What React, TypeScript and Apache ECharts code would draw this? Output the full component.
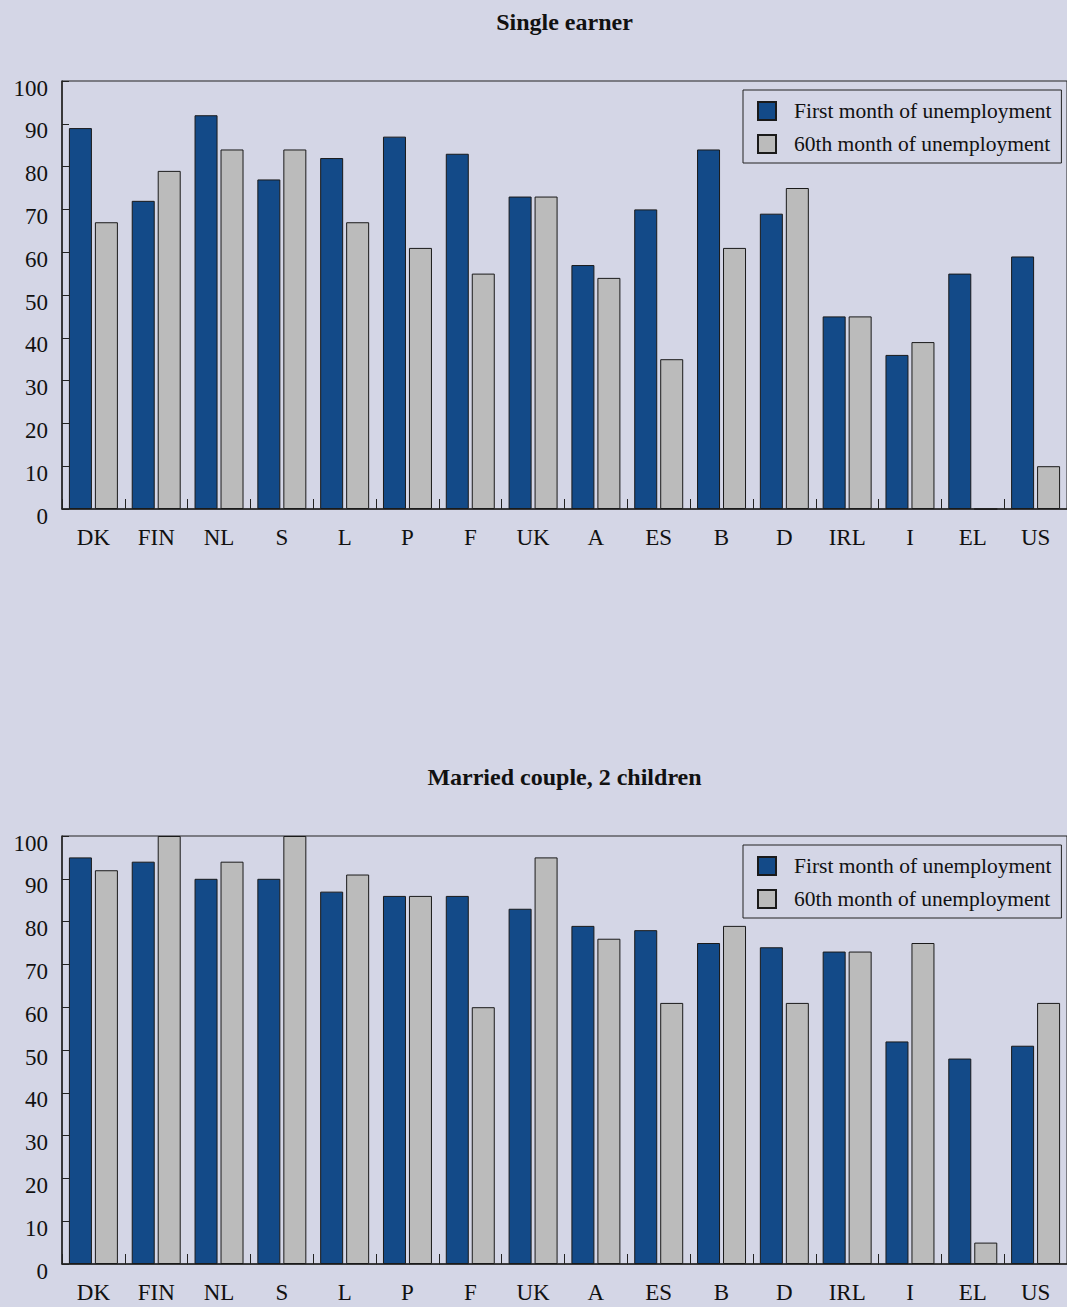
import React, { useEffect, useRef } from "react";
import * as echarts from "echarts";

const countries = ["DK", "FIN", "NL", "S", "L", "P", "F", "UK", "A", "ES", "B", "D", "IRL", "I", "EL", "US"];

const singleFirst = [89, 72, 92, 77, 82, 87, 83, 73, 57, 70, 84, 69, 45, 36, 55, 59];
const singleSixtieth = [67, 79, 84, 84, 67, 61, 55, 73, 54, 35, 61, 75, 45, 39, 0, 10];

const coupleFirst = [95, 94, 90, 90, 87, 86, 86, 83, 79, 78, 75, 74, 73, 52, 48, 51];
const coupleSixtieth = [92, 100, 94, 100, 91, 86, 60, 95, 76, 61, 79, 61, 73, 75, 5, 61];

const yTicks = [0, 10, 20, 30, 40, 50, 60, 70, 80, 90, 100];

const panelTitles = ["Single earner", "Married couple, 2 children"];
const seriesNames = ["First month of unemployment", "60th month of unemployment"];

const BG = "#D4D6E6";
const BLUE = "#134A88";
const GREY = "#BBBBBB";
const INK = "#111111";
const FONT = "'Liberation Serif', 'Times New Roman', serif";

export default function App() {
  const ref = useRef<HTMLDivElement>(null);

  useEffect(() => {
    if (!ref.current) return;
    const chart = echarts.init(ref.current, undefined, { renderer: "svg" });

    const gridTops = [81, 836];
    const panels = [
      [singleFirst, singleSixtieth],
      [coupleFirst, coupleSixtieth],
    ];

    const grids = gridTops.map((top) => ({
      left: 62,
      top,
      width: 1005,
      height: 428,
      show: true,
      backgroundColor: "transparent",
      borderColor: "#222",
      borderWidth: 1,
    }));

    const xAxes = gridTops.map((_, i) => ({
      type: "category",
      gridIndex: i,
      data: countries,
      axisLine: { show: true, lineStyle: { color: "#222", width: 1.5 } },
      axisTick: { show: true, inside: true, length: 10, alignWithLabel: false, lineStyle: { color: "#222" } },
      axisLabel: { color: INK, fontSize: 23, fontFamily: FONT, margin: 17 },
    }));

    const yAxes = gridTops.map((_, i) => ({
      type: "value",
      gridIndex: i,
      min: yTicks[0],
      max: yTicks[yTicks.length - 1],
      interval: yTicks[1] - yTicks[0],
      splitLine: { show: false },
      axisLine: { show: true, lineStyle: { color: "#222", width: 1.5 } },
      axisTick: { show: true, inside: true, length: 7, lineStyle: { color: "#222" } },
      axisLabel: {
        color: INK,
        fontSize: 23,
        fontFamily: FONT,
        margin: 14,
        verticalAlign: "top",
        lineHeight: 14,
      },
    }));

    const series: any[] = [];
    panels.forEach((pair, i) => {
      pair.forEach((values, k) => {
        series.push({
          type: "bar",
          name: seriesNames[k],
          xAxisIndex: i,
          yAxisIndex: i,
          data: values,
          barWidth: 23,
          barGap: "13%",
          itemStyle: {
            color: k === 0 ? BLUE : GREY,
            borderColor: "#1a1a1a",
            borderWidth: 1,
          },
        });
      });
    });

    const legends = gridTops.map((top) => ({
      data: seriesNames,
      orient: "vertical",
      left: 743,
      top: top + 9,
      padding: [10, 10, 8, 14],
      icon: "rect",
      itemWidth: 18,
      itemHeight: 18,
      itemGap: 11,
      borderColor: "#222",
      borderWidth: 1,
      backgroundColor: "transparent",
      selectedMode: false,
      textStyle: { color: INK, fontSize: 21.5, lineHeight: 18, fontFamily: FONT, padding: [0, 0, 0, 13] },
    }));

    const titleY = [22, 777];
    const graphic = panelTitles.map((t, i) => ({
      type: "text",
      x: 564.5,
      y: titleY[i],
      style: {
        text: t,
        fill: INK,
        font: `bold 24px ${FONT}`,
        textAlign: "center",
        textVerticalAlign: "middle",
      },
    }));

    chart.setOption({
      animation: false,
      backgroundColor: BG,
      grid: grids,
      xAxis: xAxes,
      yAxis: yAxes,
      legend: legends,
      series,
      graphic,
    });

    return () => chart.dispose();
  }, []);

  return (
    <div
      style={{
        position: "absolute",
        left: 0,
        top: 0,
        width: 1067,
        height: 1307,
        background: BG,
        overflow: "hidden",
      }}
    >
      <div ref={ref} style={{ width: 1067, height: 1307 }} />
    </div>
  );
}
